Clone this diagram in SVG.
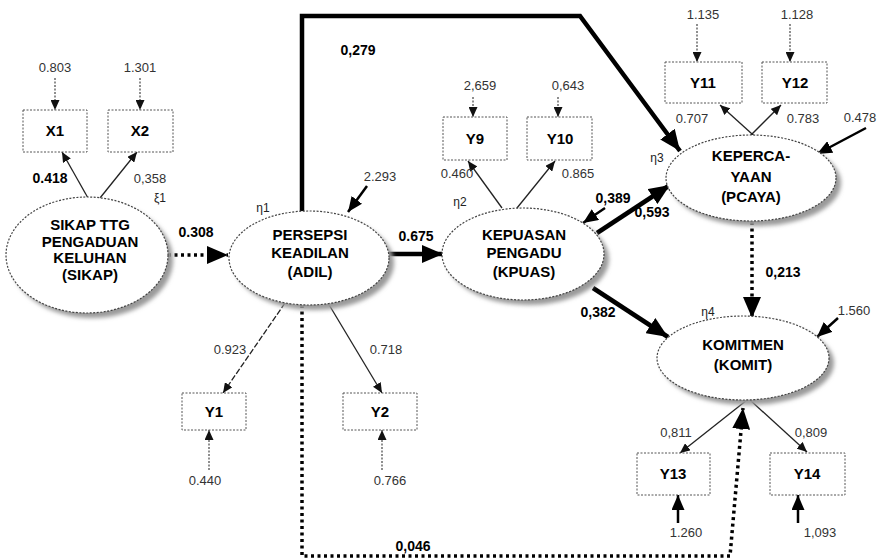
<svg xmlns="http://www.w3.org/2000/svg" width="879" height="560" viewBox="0 0 879 560">
<style>
text{font-family:"Liberation Sans",Arial,sans-serif;fill:#000}
.nl{font-size:15px;font-weight:bold;text-anchor:middle}
.bl{font-size:15px;font-weight:bold;text-anchor:middle}
.cf{font-size:14px;font-weight:bold;text-anchor:middle}
.sv{font-size:13px;text-anchor:middle;fill:#333}
.eta{font-size:12px;text-anchor:middle;fill:#222}
.box{fill:#fff;stroke:#555;stroke-width:1;stroke-dasharray:2 1.5}
.ell{fill:#fff;stroke:#444;stroke-width:1.2;stroke-dasharray:2 1.5}
.shd{fill:#9a9a9a;filter:url(#blur)}
.thick{fill:none;stroke:#000;stroke-width:4.5}
.dot{fill:none;stroke:#000;stroke-width:3.5;stroke-dasharray:3 3.5}
.thin{fill:none;stroke:#222;stroke-width:1.3}
.err{fill:none;stroke:#444;stroke-width:1.2;stroke-dasharray:2 1.5}
.med{fill:none;stroke:#000;stroke-width:2.5}
</style>
<defs>
<filter id="blur" x="-20%" y="-20%" width="140%" height="140%"><feGaussianBlur stdDeviation="2"/></filter>
<marker id="sm" markerUnits="userSpaceOnUse" markerWidth="10" markerHeight="9" refX="10" refY="4.5" orient="auto"><path d="M0,0 L10,4.5 L0,9 z" fill="#111"/></marker>
<marker id="md" markerUnits="userSpaceOnUse" markerWidth="15" markerHeight="13" refX="15" refY="6.5" orient="auto"><path d="M0,0 L15,6.5 L0,13 z" fill="#000"/></marker>
<marker id="lg" markerUnits="userSpaceOnUse" markerWidth="21" markerHeight="18" refX="21" refY="9" orient="auto"><path d="M0,0 L21,9 L0,18 z" fill="#000"/></marker>
</defs>

<g id="connectors">
<!-- structural paths -->
<path class="dot" d="M168,255 H228" marker-end="url(#lg)"/>
<path class="thick" d="M302,211 V16 H580 L680,151" marker-end="url(#lg)"/>
<path class="thick" d="M389,254 H443" marker-end="url(#lg)"/>
<path class="thick" d="M597,233 L670,185" marker-end="url(#lg)"/>
<path class="thick" d="M593,288 L668,337" marker-end="url(#lg)"/>
<path class="dot" d="M752,222 V318" marker-end="url(#lg)"/>
<path class="dot" d="M302,305 V556 H730 L743,408" marker-end="url(#lg)"/>
<!-- disturbance arrows -->
<path class="med" d="M367,186 L348,212" marker-end="url(#md)"/>
<path class="med" d="M605,208 L583,223" marker-end="url(#md)"/>
<path class="med" d="M866,128 L817,154" marker-end="url(#md)"/>
<path class="med" d="M838,318 L817,337" marker-end="url(#md)"/>
<!-- loadings -->
<path class="thin" d="M88,198 L62,152" marker-end="url(#sm)"/>
<path class="thin" d="M100,198 L137,152" marker-end="url(#sm)"/>
<path class="thin" d="M285,303 L223,393" stroke-dasharray="6 2" marker-end="url(#sm)"/>
<path class="thin" d="M328,303 L382,393" marker-end="url(#sm)"/>
<path class="thin" d="M502,208 L468,161" marker-end="url(#sm)"/>
<path class="thin" d="M517,208 L555,161" marker-end="url(#sm)"/>
<path class="thin" d="M762,143 L720,105" marker-end="url(#sm)"/>
<path class="thin" d="M743,143 L781,105" marker-end="url(#sm)"/>
<path class="thin" d="M747,400 L680,453" marker-end="url(#sm)"/>
<path class="thin" d="M750,400 L807,452" marker-end="url(#sm)"/>
<!-- measurement errors -->
<path class="err" d="M55,78 V110" marker-end="url(#sm)"/>
<path class="err" d="M140,78 V110" marker-end="url(#sm)"/>
<path class="err" d="M473,97 V117" marker-end="url(#sm)"/>
<path class="err" d="M558,97 V117" marker-end="url(#sm)"/>
<path class="err" d="M697,24 V62" marker-end="url(#sm)"/>
<path class="err" d="M790,24 V62" marker-end="url(#sm)"/>
<path class="err" d="M209,470 V430" marker-end="url(#sm)"/>
<path class="err" d="M382,470 V430" marker-end="url(#sm)"/>
<path class="med" d="M678,523 V495" marker-end="url(#md)"/>
<path class="med" d="M798,523 V495" marker-end="url(#md)"/>
</g>

<g id="labels">
<text class="cf" x="196" y="237">0.308</text>
<text class="cf" x="358" y="55">0,279</text>
<text class="cf" x="416" y="241">0.675</text>
<text class="cf" x="652" y="217">0,593</text>
<text class="cf" x="598" y="317">0,382</text>
<text class="cf" x="783" y="277">0,213</text>
<text class="cf" x="413" y="551">0,046</text>
<text class="cf" x="613" y="203">0,389</text>
<text class="sv" x="380" y="181">2.293</text>
<text class="sv" x="860" y="122">0.478</text>
<text class="sv" x="854" y="315">1.560</text>
<text class="cf" x="50" y="183">0.418</text>
<text class="sv" x="150" y="183">0,358</text>
<text class="sv" x="230" y="354">0.923</text>
<text class="sv" x="386" y="354">0.718</text>
<text class="sv" x="457" y="178">0.460</text>
<text class="sv" x="578" y="178">0.865</text>
<text class="sv" x="692" y="123">0.707</text>
<text class="sv" x="803" y="123">0.783</text>
<text class="sv" x="676" y="437">0,811</text>
<text class="sv" x="811" y="437">0,809</text>
<text class="sv" x="55" y="72">0.803</text>
<text class="sv" x="140" y="72">1.301</text>
<text class="sv" x="480" y="90">2,659</text>
<text class="sv" x="568" y="90">0,643</text>
<text class="sv" x="703" y="19">1.135</text>
<text class="sv" x="797" y="19">1.128</text>
<text class="sv" x="205" y="485">0.440</text>
<text class="sv" x="390" y="485">0.766</text>
<text class="sv" x="686" y="537">1.260</text>
<text class="sv" x="820" y="537">1,093</text>
<text class="eta" x="160" y="202">ξ1</text>
<text class="eta" x="263" y="212">η1</text>
<text class="eta" x="460" y="206">η2</text>
<text class="eta" x="657" y="162">η3</text>
<text class="eta" x="708" y="316">η4</text>
</g>

<g id="SIKAP">
<ellipse class="shd" cx="92" cy="260" rx="81" ry="58"/>
<ellipse class="ell" cx="87" cy="255" rx="81" ry="58"/>
<text class="nl" x="90" y="230" font-size="13.5">SIKAP TTG</text>
<text class="nl" x="90" y="247" font-size="13.5">PENGADUAN</text>
<text class="nl" x="90" y="263" font-size="13.5">KELUHAN</text>
<text class="nl" x="90" y="280" font-size="13.5">(SIKAP)</text>
</g>
<g id="ADIL">
<ellipse class="shd" cx="314" cy="263" rx="80" ry="47"/>
<ellipse class="ell" cx="309" cy="258" rx="80" ry="47"/>
<text class="nl" x="310" y="240">PERSEPSI</text>
<text class="nl" x="310" y="258">KEADILAN</text>
<text class="nl" x="310" y="277">(ADIL)</text>
</g>
<g id="KPUAS">
<ellipse class="shd" cx="528" cy="259" rx="81" ry="46"/>
<ellipse class="ell" cx="523" cy="254" rx="81" ry="46"/>
<text class="nl" x="524" y="240">KEPUASAN</text>
<text class="nl" x="524" y="258">PENGADU</text>
<text class="nl" x="524" y="277">(KPUAS)</text>
</g>
<g id="PCAYA">
<ellipse class="shd" cx="756" cy="183" rx="85" ry="43"/>
<ellipse class="ell" cx="751" cy="178" rx="85" ry="43"/>
<text class="nl" x="751" y="161">KEPERCA-</text>
<text class="nl" x="751" y="182">YAAN</text>
<text class="nl" x="751" y="202">(PCAYA)</text>
</g>
<g id="KOMIT">
<ellipse class="shd" cx="748" cy="363" rx="86" ry="42"/>
<ellipse class="ell" cx="743" cy="358" rx="86" ry="42"/>
<text class="nl" x="743" y="350">KOMITMEN</text>
<text class="nl" x="743" y="370">(KOMIT)</text>
</g>
<g id="X1"><rect class="box" x="23" y="110" width="64" height="42"/><text class="bl" x="55" y="136">X1</text></g>
<g id="X2"><rect class="box" x="108" y="110" width="65" height="42"/><text class="bl" x="140" y="136">X2</text></g>
<g id="Y1"><rect class="box" x="182" y="393" width="64" height="37"/><text class="bl" x="214" y="417">Y1</text></g>
<g id="Y2"><rect class="box" x="343" y="393" width="74" height="37"/><text class="bl" x="380" y="417">Y2</text></g>
<g id="Y9"><rect class="box" x="443" y="117" width="64" height="43"/><text class="bl" x="475" y="144">Y9</text></g>
<g id="Y10"><rect class="box" x="527" y="117" width="65" height="43"/><text class="bl" x="560" y="144">Y10</text></g>
<g id="Y11"><rect class="box" x="665" y="62" width="77" height="41"/><text class="bl" x="703" y="88">Y11</text></g>
<g id="Y12"><rect class="box" x="762" y="62" width="65" height="41"/><text class="bl" x="795" y="88">Y12</text></g>
<g id="Y13"><rect class="box" x="637" y="453" width="73" height="42"/><text class="bl" x="673" y="479">Y13</text></g>
<g id="Y14"><rect class="box" x="770" y="453" width="75" height="42"/><text class="bl" x="807" y="479">Y14</text></g>
</svg>
